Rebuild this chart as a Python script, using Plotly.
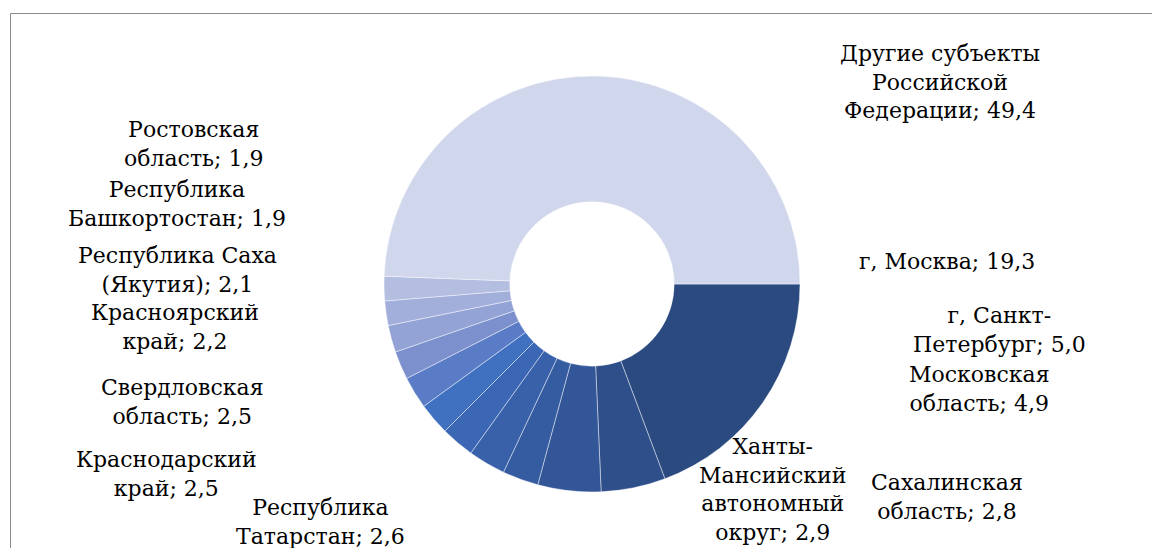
import plotly.graph_objects as go

regions = [
    "г. Москва",
    "г. Санкт-<br>Петербург",
    "Московская<br>область",
    "Сахалинская<br>область",
    "Ханты-<br>Мансийский<br>автономный<br>округ",
    "Республика<br>Татарстан",
    "Краснодарский<br>край",
    "Свердловская<br>область",
    "Красноярский<br>край",
    "Республика Саха<br>(Якутия)",
    "Республика<br>Башкортостан",
    "Ростовская<br>область",
    "Другие субъекты<br>Российской<br>Федерации",
]
shares = [19.3, 5.0, 4.9, 2.8, 2.9, 2.6, 2.5, 2.5, 2.2, 2.1, 1.9, 1.9, 49.4]
colors = [
    "#2A4A80", "#2E4F89", "#325697", "#355CA1", "#3861AA", "#3B67B4",
    "#4070C0", "#5A7CC7", "#7C90CE", "#93A3D5", "#A3AFDB", "#B4BEE0", "#D0D6EC",
]
# label centre positions (pixels in the 1160x548 page)
label_px = [
    (947, 262), (999, 330), (979, 389), (947, 497), (772, 489), (320, 522),
    (166, 474), (182, 402), (175, 327), (178, 270), (177, 204), (194, 144), (940, 82),
]

W, H = 1160, 548
OFF = 8  # page body margin offset
cx, cy, R = 592, 284, 208


def px_x(px):
    return (px - OFF) / W


def px_y(py):
    return 1 - (py - OFF) / H


FONT = "DejaVu Serif"

fig = go.Figure()
fig.add_trace(go.Pie(
    labels=[r.replace("<br>", " ") for r in regions],
    values=shares,
    sort=False,
    direction="clockwise",
    rotation=90,
    hole=0.395,
    marker=dict(colors=colors, line=dict(color="rgba(255,255,255,0.55)", width=0.8)),
    textinfo="none",
    hoverinfo="label+value",
    showlegend=False,
    domain=dict(x=[px_x(cx - R), px_x(cx + R)], y=[px_y(cy + R), px_y(cy - R)]),
))

for name, val, (px, py) in zip(regions, shares, label_px):
    fig.add_annotation(
        text=f"{name}; {val:.1f}".replace(".", ","),
        x=px_x(px), y=px_y(py), xref="paper", yref="paper",
        xanchor="center", yanchor="middle", align="center", showarrow=False,
        font=dict(family=FONT, size=22, color="#000000"),
    )

# frame (top and left edges visible)
fig.add_shape(type="line", xref="paper", yref="paper",
              x0=px_x(10.5), x1=1.0, y0=px_y(13.5), y1=px_y(13.5),
              line=dict(color="#898989", width=1))
fig.add_shape(type="line", xref="paper", yref="paper",
              x0=px_x(10.5), x1=px_x(10.5), y0=px_y(13.5), y1=0,
              line=dict(color="#898989", width=1))

fig.update_layout(
    width=W, height=H,
    margin=dict(l=0, r=0, t=0, b=0),
    paper_bgcolor="white", plot_bgcolor="white",
    font=dict(family=FONT),
)
fig.write_html("out.html")
